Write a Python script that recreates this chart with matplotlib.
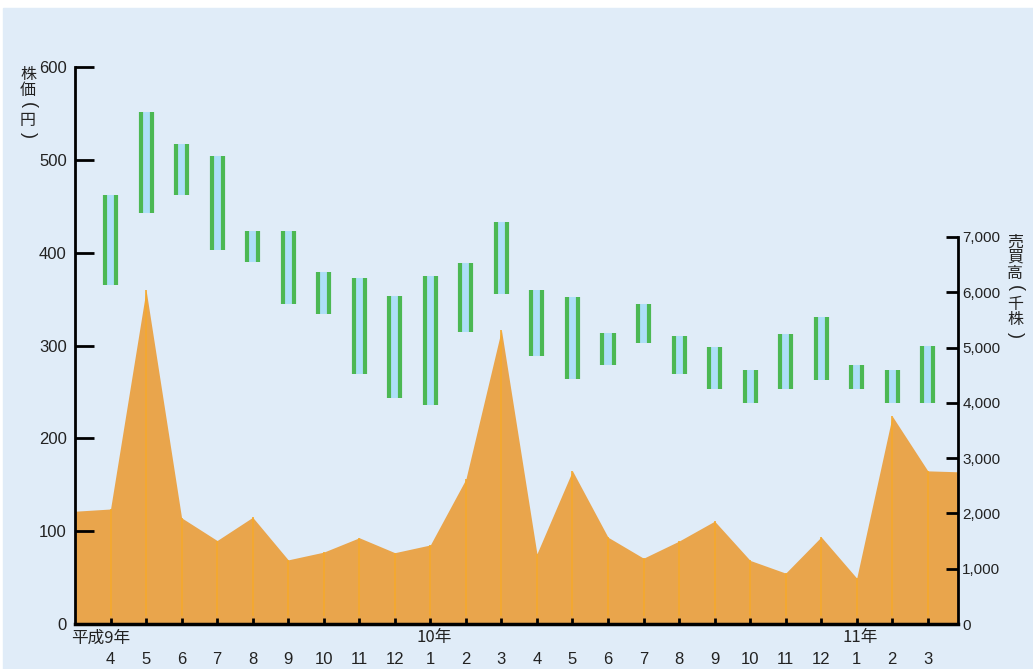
import numpy as np
import matplotlib
matplotlib.use("Agg")
import matplotlib.pyplot as plt
from matplotlib.patches import Rectangle
from matplotlib.transforms import blended_transform_factory

# 株価（高値・安値）平成9年4月〜平成11年3月
months = ['4', '5', '6', '7', '8', '9', '10', '11', '12', '1', '2', '3',
          '4', '5', '6', '7', '8', '9', '10', '11', '12', '1', '2', '3']
high = [462, 551, 517, 504, 423, 423, 379, 373, 353, 375, 389, 433,
        360, 352, 313, 345, 310, 298, 274, 312, 331, 279, 274, 299]
low = [365, 443, 462, 403, 390, 345, 334, 269, 243, 236, 315, 355,
       289, 264, 279, 303, 269, 253, 238, 253, 263, 253, 238, 238]
# 売買高（千株）平成9年3月〜平成11年4月
volume = [2040, 2080, 6040, 1920, 1510, 1930, 1160, 1300, 1560, 1290, 1430, 2620,
          5320, 1270, 2770, 1570, 1190, 1500, 1860, 1150, 920, 1575, 830, 3760,
          2770, 2750]
year_labels = ['平成9年', '10年', '11年']
year_pos = [0, 10, 22]

bg = '#e0ecf8'
txt = '#222222'
jp = ['Noto Sans CJK JP', 'DejaVu Sans']
num = ['Liberation Sans', 'DejaVu Sans']

fig = plt.figure(figsize=(10.33, 6.69), dpi=100, facecolor='white')
fig.patches.append(Rectangle((3 / 1033, 0), 1, (669 - 8) / 669,
                             transform=fig.transFigure, color=bg, zorder=-10))

ax = fig.add_axes([75 / 1033, 45 / 669, 883 / 1033, 557 / 669])
ax2 = ax.twinx()
ax.set_zorder(ax2.get_zorder() + 1)
ax.patch.set_visible(False)
ax2.patch.set_visible(False)

x_bar = np.arange(1, len(months) + 1)
x_vol = np.arange(len(volume))

# 売買高（面グラフ）
ax2.fill_between(x_vol, volume, color='#e9a54c', linewidth=0, zorder=1)
ax2.vlines(x_vol[1:], 150, volume[1:], color='#f6a92c', linewidth=1.2, zorder=2)

# 株価（高値・安値）
hi = np.array(high)
lo = np.array(low)
ax.bar(x_bar, hi - lo, bottom=lo, width=0.42, color='#addff8', linewidth=0, zorder=3)
ax.vlines(x_bar - 0.155, lo, hi, color='#4cb853', linewidth=3, zorder=4)
ax.vlines(x_bar + 0.155, lo, hi, color='#4cb853', linewidth=3, zorder=4)

ax.set_xlim(0, 24.85)
ax2.set_xlim(0, 24.85)
ax.set_ylim(0, 600)
ax2.set_ylim(0, 7000 * 557 / 387)

for a in (ax, ax2):
    a.spines['top'].set_visible(False)
ax.spines['right'].set_visible(False)
ax2.spines['left'].set_visible(False)
ax2.spines['bottom'].set_visible(False)
ax.spines['left'].set_linewidth(2)
ax.spines['bottom'].set_linewidth(2.5)
ax2.spines['right'].set_linewidth(2)
ax2.spines['right'].set_bounds(0, 7000)

ax.set_yticks(range(0, 601, 100))
ax.tick_params(axis='y', direction='in', length=14, width=2, pad=6,
               labelsize=12, labelcolor=txt)
ax2.set_yticks(range(0, 7001, 1000))
ax2.set_yticklabels([f'{v:,}' for v in range(0, 7001, 1000)])
ax2.tick_params(axis='y', direction='in', length=9, width=2, pad=3,
                labelsize=11, labelcolor=txt)

ax.set_xticks(x_bar)
ax.set_xticklabels(months)
ax.tick_params(axis='x', direction='in', length=4, width=2, pad=20,
               labelsize=12, labelcolor=txt)
ax2.tick_params(axis='x', bottom=False, labelbottom=False)

for lab in ax.get_xticklabels() + ax.get_yticklabels() + ax2.get_yticklabels():
    lab.set_family(num)

tr = blended_transform_factory(ax.transData, ax.transAxes)
for lbl, p in zip(year_labels, year_pos):
    ha = 'left' if p == 0 else 'center'
    xx = p - 0.1 if p == 0 else p + 0.1
    ax.text(xx, -0.025, lbl, transform=tr, ha=ha, va='center', fontsize=12,
            color=txt, family=jp, clip_on=False)


# 縦書きの軸ラベル（括弧は半角を回転して縦書き風にする）
def vertical(s, x, y_top, step):
    for i, ch in enumerate(s):
        if ch in '()':
            fig.text(x / 1033, 1 - (y_top + i * step) / 669, ch, ha='center',
                     va='center', fontsize=13, color=txt, family=num, rotation=-90)
        else:
            fig.text(x / 1033, 1 - (y_top + i * step) / 669, ch, ha='center',
                     va='center', fontsize=11.5, color=txt, family=jp)


vertical('株価(円)', 28, 75, 15)
vertical('売買高(千株)', 1015, 242, 15.5)

fig.savefig('out.png', dpi=100, facecolor='white')
